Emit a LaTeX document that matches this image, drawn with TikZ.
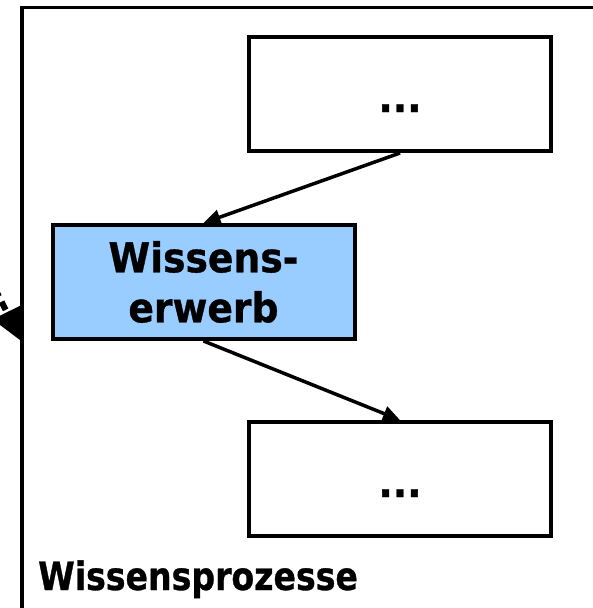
\documentclass[tikz,border=0pt]{standalone}
\usepackage{fontspec}
\setmainfont{DejaVu Sans}
\newfontfamily\fa{DejaVu Sans}[FakeStretch=0.92,FakeBold=0.8]
\newfontfamily\fb{DejaVu Sans}[FakeStretch=0.85,FakeBold=0.8]
\usetikzlibrary{arrows.meta}
\definecolor{boxblue}{RGB}{153,204,255}
\begin{document}
\begin{tikzpicture}[x=1pt,y=-1pt,
  box/.style={draw, line width=4pt, minimum width=302pt, minimum height=114pt,
    inner sep=0pt, text height=36pt, text depth=0pt,
    font=\fa\bfseries\fontsize{41pt}{50pt}\selectfont},
  bluebox/.style={box, fill=boxblue, align=center, text height=, text depth=},
  conn/.style={line width=3.5pt, -{Triangle[length=17pt,width=15pt]}},
  dconn/.style={line width=6pt, dash pattern=on 9pt off 6pt,
    -{Triangle[length=32pt,width=30pt]}},
  framestyle/.style={line width=3.5pt},
  lblstyle/.style={font=\fb\bfseries\fontsize{39pt}{45pt}\selectfont,
    anchor=base west, inner sep=0pt}]
\useasboundingbox (0,0) rectangle (593,608);
\clip (0,0) rectangle (593,608);
\fill[white] (0,0) rectangle (593,608);
% incoming dashed arrow
\coordinate (ds) at (-25,248);
\coordinate (dt) at (21,341);
\draw[dconn] (ds) -- (dt);
% frame
\draw[framestyle] (22,7.5) rectangle (660,680);
\node[lblstyle] (lbl) at (38,590) {Wissensprozesse};
% boxes
\node[box] (top) at (400,94) {...};
\node[bluebox] (blue) at (203.5,282) {Wissens-\\erwerb};
\node[box] (bot) at (400,479) {...};
% connectors
\draw[conn] (top.south) -- (blue.north);
\draw[conn] (blue.south) -- (bot.north);
\end{tikzpicture}
\end{document}
